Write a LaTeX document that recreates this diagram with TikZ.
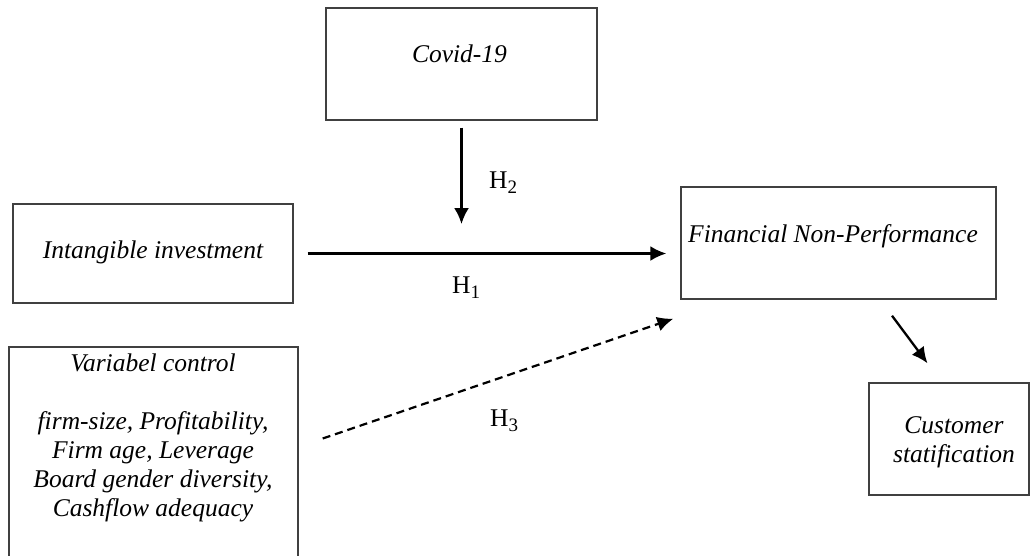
\documentclass[tikz,border=0pt]{standalone}
\usepackage{fontspec}
\setmainfont{Liberation Serif}
\usetikzlibrary{arrows.meta,calc}
\begin{document}
\begin{tikzpicture}[x=1pt,y=-1pt,
  box/.style={draw=black!75,line width=1.4pt,rectangle,inner sep=0pt},
  txt/.style={font=\fontsize{25.5}{29}\selectfont\itshape,align=center,inner sep=0pt,anchor=base},
  hl/.style={font=\fontsize{25.5}{29}\selectfont,inner sep=0pt,anchor=base west},
  arr/.style={line width=2.3pt,-{Latex[length=16pt,width=15pt]}},
  darr/.style={line width=2.2pt,dash pattern=on 8pt off 5pt,-{Latex[length=16pt,width=15pt]}}]
\clip (0,0) rectangle (1031,555);
\fill[white] (0,0) rectangle (1031,555);
% boxes
\node[box,minimum width=271pt,minimum height=112pt] (covid) at (461.5,64) {};
\node[box,minimum width=280pt,minimum height=99pt] (intang) at (153,253.5) {};
\node[box,minimum width=315pt,minimum height=112pt] (fnp) at (838.5,243) {};
\node[box,minimum width=289pt,minimum height=223pt] (var) at (153.5,458.5) {};
\node[box,minimum width=160pt,minimum height=112pt] (cust) at (949,439) {};
% texts
\node[txt] (tcovid) at (459.5,62) {Covid-19};
\node[txt] (tintang) at (153,258) {Intangible investment};
\node[txt] (tfnp) at (833,242) {Financial Non-Performance};
\node[txt] (tvar) at (153,516) {Variabel control\\[29pt]firm-size, Profitability,\\Firm age, Leverage\\Board gender diversity,\\Cashflow adequacy};
\node[txt] (tcust) at (954,462) {Customer\\statification};
% hypothesis labels
\node[hl] (h2) at (489,188) {H\raisebox{-0.22em}{\fontsize{19}{19}\selectfont 2}};
\node[hl] (h1) at (452,293) {H\raisebox{-0.22em}{\fontsize{19}{19}\selectfont 1}};
\node[hl] (h3) at (490,426) {H\raisebox{-0.22em}{\fontsize{19}{19}\selectfont 3}};
% connectors
\coordinate (modpt) at (461.5,224);
\draw[arr,shorten <=7pt] (covid.south) -- (modpt);
\draw[arr,shorten <=14pt,shorten >=14pt] (intang.east) -- (intang.east -| fnp.west);
\coordinate (h3s) at ($(var.east)+(24,-20)$);
\coordinate (h3e) at ($(fnp.south west)+(-7,19)$);
\draw[darr] (h3s) -- (h3e);
\coordinate (cs) at ($(fnp.south)+(53.5,16)$);
\coordinate (ce) at ($(cust.north)+(-21.5,-19)$);
\draw[arr] (cs) -- (ce);
\end{tikzpicture}
\end{document}
